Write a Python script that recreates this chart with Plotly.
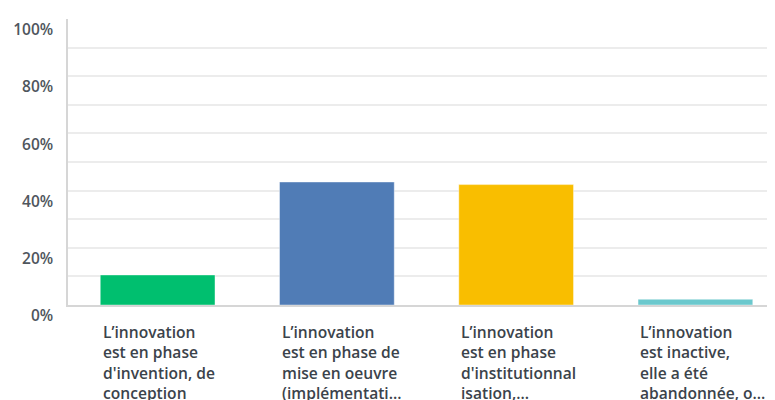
import plotly.graph_objects as go

categories = ["c1", "c2", "c3", "c4"]
labels = [
    "L’innovation<br>est en phase<br>d'invention, de<br>conception",
    "L’innovation<br>est en phase de<br>mise en oeuvre<br>(implémentati...",
    "L’innovation<br>est en phase<br>d'institutionnal<br>isation,...",
    "L’innovation<br>est inactive,<br>elle a été<br>abandonnée, o...",
]
values = [10.5, 43.0, 42.1, 2.0]
colors = ["#00bf6f", "#507cb6", "#f9be00", "#6bc8cd"]
y_ticks = [0, 20, 40, 60, 80, 100]
y_ticktext = ["0%", "20%", "40%", "60%", "80%", "100%"]
grid_vals = [10, 20, 30, 40, 50, 60, 70, 80, 90]

fig = go.Figure()
fig.add_trace(go.Bar(
    x=categories, y=values,
    marker=dict(color=colors, line=dict(width=1, color="rgba(255,255,255,0.4)")),
    width=0.64,
    hoverinfo="skip",
))

for c, t in zip(categories, labels):
    fig.add_annotation(
        x=c, y=0, xref="x", yref="paper",
        xshift=-57, yshift=-14,
        xanchor="left", yanchor="top", align="left",
        text=t, showarrow=False,
        font=dict(family="Open Sans", size=15.6, color="#3b434b", weight=600),
    )

fig.update_layout(
    width=767, height=392,
    margin=dict(l=60, r=0, t=11, b=95),
    paper_bgcolor="white", plot_bgcolor="white",
    showlegend=False,
    bargap=0.36,
)
fig.update_xaxes(
    range=[-0.5, 3.444],
    showticklabels=False, showgrid=False, zeroline=False,
    showline=True, linecolor="#d6d6d6", linewidth=2,
    fixedrange=True,
)
fig.update_yaxes(
    range=[0, 100],
    tickmode="array", tickvals=y_ticks, ticktext=y_ticktext,
    ticklabelposition="outside bottom",
    ticks="", ticklen=0, ticklabelstandoff=10,
    tickfont=dict(family="Open Sans", size=15.5, color="#4f565d", weight=600),
    showgrid=False, zeroline=False,
    showline=True, linecolor="#d6d6d6", linewidth=1.5,
    minor=dict(tickmode="array", tickvals=grid_vals, showgrid=True,
               gridcolor="#ececec", gridwidth=1.5, ticks=""),
    fixedrange=True,
)

fig.write_html("out.html")
